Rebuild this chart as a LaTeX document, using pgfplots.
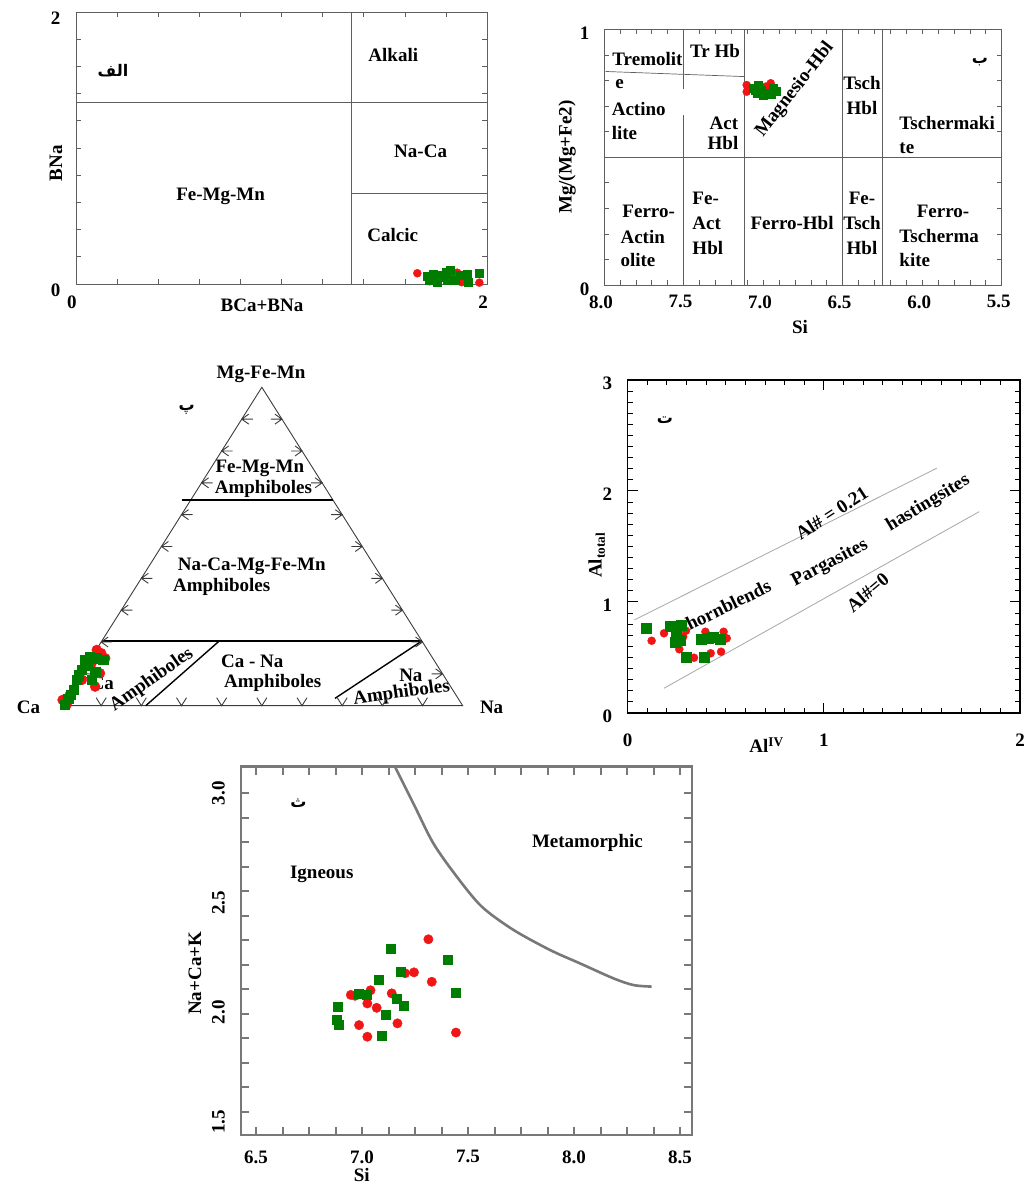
\documentclass[border=0pt]{standalone}
\usepackage{fontspec}
\setmainfont{Liberation Serif}
\newfontfamily\arabicfont[Script=Arabic]{DejaVu Sans}
\usepackage{pgfplots}
\pgfplotsset{compat=1.18}
\TeXXeTstate=1

\definecolor{ptred}{RGB}{240,22,22}
\definecolor{ptgreen}{RGB}{0,125,0}
\definecolor{frame}{RGB}{95,95,95}
\definecolor{tri}{RGB}{60,60,60}
\definecolor{curve}{RGB}{120,120,120}

\newcommand\lab{\bfseries\fontsize{19}{21}\selectfont}
\newcommand\ar[1]{{\arabicfont\bfseries\fontsize{16}{18}\selectfont\beginR #1\endR}}

% arrow-like chevrons on the sides of the ternary diagram
\pgfdeclareplotmark{chevL}{%
  \pgfpathmoveto{\pgfqpoint{7pt}{5pt}}\pgfpathlineto{\pgfqpoint{0pt}{0pt}}\pgfpathlineto{\pgfqpoint{7pt}{-5pt}}%
  \pgfpathmoveto{\pgfqpoint{0pt}{0pt}}\pgfpathlineto{\pgfqpoint{11pt}{0pt}}\pgfusepathqstroke}
\pgfdeclareplotmark{chevR}{%
  \pgfpathmoveto{\pgfqpoint{-7pt}{5pt}}\pgfpathlineto{\pgfqpoint{0pt}{0pt}}\pgfpathlineto{\pgfqpoint{-7pt}{-5pt}}%
  \pgfpathmoveto{\pgfqpoint{0pt}{0pt}}\pgfpathlineto{\pgfqpoint{-11pt}{0pt}}\pgfusepathqstroke}
\pgfdeclareplotmark{chevD}{%
  \pgfpathmoveto{\pgfqpoint{-5pt}{8pt}}\pgfpathlineto{\pgfqpoint{0pt}{0pt}}\pgfpathlineto{\pgfqpoint{5pt}{8pt}}%
  \pgfusepathqstroke}

\pgfplotsset{
  every axis/.append style={scale only axis, anchor=south west, clip=false,
    tick align=inside, /pgf/number format/assume math mode=true},
  every tick label/.append style={font=\lab},
  redpts/.style={only marks, mark=*, color=ptred},
  greenpts/.style={only marks, mark=square*, color=ptgreen},
}

\begin{document}
\begin{tikzpicture}
\path[use as bounding box] (0pt,0pt) rectangle (1025pt,1187pt);

%---------------- BNa vs BCa+BNa ----------------
\begin{axis}[at={(76pt,903pt)}, width=411pt, height=272pt,
  xmin=0, xmax=2, ymin=0, ymax=2,
  xtick={0,2}, ytick={0,2},
  minor xtick={0.2,0.4,0.6,0.8,1.0,1.2,1.4,1.6,1.8},
  minor ytick={0.2,0.4,0.6,0.8,1.0,1.2,1.4,1.6,1.8},
  axis line style={frame, line width=0.8pt},
  every tick/.style={frame, line width=0.6pt},
  major tick length=5pt, minor tick length=5pt,
  xticklabel style={yshift=-8pt, xshift=-4pt},
  yticklabel style={xshift=-12pt, yshift=-6pt},
  xlabel={\lab BCa+BNa}, ylabel={\lab BNa},
  xlabel style={at={(axis description cs:0.4526,-0.077)}, anchor=center},
  ylabel style={at={(axis description cs:-0.0487,0.4438)}, anchor=center},
]
\addplot[frame, line width=0.7pt] coordinates {(1.342,0) (1.342,2)};
\addplot[frame, line width=0.7pt] coordinates {(0,1.338) (2,1.338)};
\addplot[frame, line width=0.7pt] coordinates {(1.342,0.669) (2,0.669)};
\node[font=\lab] at (axis cs:0.704,0.642) {Fe-Mg-Mn};
\node[font=\lab] at (axis cs:1.544,1.684) {Alkali};
\node[font=\lab] at (axis cs:1.677,0.973) {Na-Ca};
\node[font=\lab] at (axis cs:1.541,0.360) {Calcic};
\node at (axis cs:0.18,1.566) {\ar{الف}};
\addplot[redpts, mark size=4pt] coordinates {
 (1.661,0.079) (1.855,0.083) (1.877,0.013) (1.963,0.010) (1.720,0.020) (1.830,0.060)};
\addplot[greenpts, mark size=4pt] coordinates {
 (1.707,0.054) (1.747,0.035) (1.780,0.066) (1.820,0.098) (1.804,0.030) (1.904,0.071)
 (1.961,0.079) (1.909,0.010) (1.844,0.030) (1.760,0.015) (1.720,0.030) (1.800,0.088)
 (1.870,0.066) (1.790,0.050) (1.740,0.070)};
\end{axis}

%---------------- Mg/(Mg+Fe2) vs Si ----------------
\begin{axis}[at={(604pt,902pt)}, width=397.7pt, height=255.7pt,
  x dir=reverse, xmin=5.5, xmax=8, ymin=0, ymax=1,
  xtick={5.5,6,6.5,7,7.5,8}, ytick={0,1},
  minor xtick={5.6,5.7,5.8,5.9,6.1,6.2,6.3,6.4,6.6,6.7,6.8,6.9,7.1,7.2,7.3,7.4,7.6,7.7,7.8,7.9},
  minor ytick={0.1,0.2,0.3,0.4,0.5,0.6,0.7,0.8,0.9},
  axis line style={frame, line width=0.8pt},
  every tick/.style={frame, line width=0.6pt},
  major tick length=5pt, minor tick length=5pt,
  xticklabel style={yshift=-7pt, xshift=-3pt, /pgf/number format/.cd, fixed, fixed zerofill, precision=1},
  yticklabel style={xshift=-11pt, yshift=-4pt},
  xlabel={\lab Si}, ylabel={\lab Mg/(Mg+Fe2)},
  xlabel style={at={(axis description cs:0.493,-0.164)}, anchor=center},
  ylabel style={at={(axis description cs:-0.093,0.5)}, anchor=center},
]
\addplot[frame, line width=0.7pt] coordinates {(7.5,0) (7.5,0.665)};
\addplot[frame, line width=0.7pt] coordinates {(7.5,0.765) (7.5,1)};
\addplot[frame, line width=0.7pt] coordinates {(7.115,0) (7.115,1)};
\addplot[frame, line width=0.7pt] coordinates {(6.5,0) (6.5,1)};
\addplot[frame, line width=0.7pt] coordinates {(6.25,0) (6.25,1)};
\addplot[frame, line width=0.7pt] coordinates {(8,0.5) (5.5,0.5)};
\addplot[frame, line width=0.7pt] coordinates {(7.99,0.835) (7.115,0.815)};
\node[font=\lab, anchor=west] at (axis cs:7.969,0.884) {Tremolit};
\node[font=\lab, anchor=west] at (axis cs:7.95,0.786) {e};
\node[font=\lab, anchor=west] at (axis cs:7.973,0.688) {Actino};
\node[font=\lab, anchor=west] at (axis cs:7.973,0.594) {lite};
\node[font=\lab] at (axis cs:7.302,0.915) {Tr Hb};
\node[font=\lab] at (axis cs:7.246,0.634) {Act};
\node[font=\lab] at (axis cs:7.252,0.555) {Hbl};
\node[font=\lab, rotate=52] at (axis cs:6.80,0.763) {Magnesio-Hbl};
\node[font=\lab] at (axis cs:6.378,0.790) {Tsch};
\node[font=\lab] at (axis cs:6.378,0.692) {Hbl};
\node[font=\lab, anchor=west] at (axis cs:6.165,0.634) {Tschermaki};
\node[font=\lab, anchor=west] at (axis cs:6.165,0.536) {te};
\node at (axis cs:5.637,0.872) {\ar{ب}};
\node[font=\lab, anchor=west] at (axis cs:7.906,0.289) {Ferro-};
\node[font=\lab, anchor=west] at (axis cs:7.918,0.188) {Actin};
\node[font=\lab, anchor=west] at (axis cs:7.918,0.098) {olite};
\node[font=\lab, anchor=west] at (axis cs:7.466,0.340) {Fe-};
\node[font=\lab, anchor=west] at (axis cs:7.466,0.242) {Act};
\node[font=\lab, anchor=west] at (axis cs:7.466,0.145) {Hbl};
\node[font=\lab] at (axis cs:6.818,0.242) {Ferro-Hbl};
\node[font=\lab] at (axis cs:6.378,0.340) {Fe-};
\node[font=\lab] at (axis cs:6.378,0.242) {Tsch};
\node[font=\lab] at (axis cs:6.378,0.145) {Hbl};
\node[font=\lab] at (axis cs:5.869,0.289) {Ferro-};
\node[font=\lab, anchor=west] at (axis cs:6.165,0.192) {Tscherma};
\node[font=\lab, anchor=west] at (axis cs:6.165,0.098) {kite};
\addplot[redpts, mark size=4pt] coordinates {
 (7.103,0.782) (7.103,0.756) (6.952,0.789) (6.982,0.776)};
\addplot[greenpts, mark size=4pt] coordinates {
 (7.062,0.769) (7.036,0.750) (7.009,0.763) (6.974,0.750) (6.936,0.769) (6.919,0.756)
 (6.999,0.743) (7.032,0.782) (6.950,0.745) (7.050,0.760)};
\end{axis}

%---------------- Ca - Na - (Mg-Fe-Mn) ternary ----------------
\begin{axis}[at={(61pt,481.3pt)}, width=401.7pt, height=318.4pt,
  xmin=0, xmax=1, ymin=0, ymax=1, hide axis]
\addplot[tri, line width=0.9pt] coordinates {(0,0) (1,0) (0.5,1) (0,0)};
\addplot[black, line width=1.4pt] coordinates {(0.300,0.646) (0.677,0.646)};
\addplot[black, line width=1.4pt] coordinates {(0.1015,0.203) (0.8985,0.203)};
\addplot[black, line width=1.4pt] coordinates {(0.211,0) (0.392,0.201)};
\addplot[black, line width=1.4pt] coordinates {(0.682,0.023) (0.898,0.203)};
\addplot[only marks, mark=chevL, tri, mark options={line width=0.9pt}] coordinates {
 (0.05,0.1) (0.10,0.2) (0.15,0.3) (0.20,0.4) (0.25,0.5) (0.30,0.6) (0.35,0.7) (0.40,0.8) (0.45,0.9)};
\addplot[only marks, mark=chevR, tri, mark options={line width=0.9pt}] coordinates {
 (0.95,0.1) (0.90,0.2) (0.85,0.3) (0.80,0.4) (0.75,0.5) (0.70,0.6) (0.65,0.7) (0.60,0.8) (0.55,0.9)};
\addplot[only marks, mark=chevD, tri, mark options={line width=0.9pt}] coordinates {
 (0.1,0) (0.2,0) (0.3,0) (0.4,0) (0.5,0) (0.6,0) (0.7,0) (0.8,0) (0.9,0)};
\node[font=\lab] at (axis cs:0.498,1.042) {Mg-Fe-Mn};
\node at (axis cs:0.313,0.929) {\ar{پ}};
\node[font=\lab] at (axis cs:0.495,0.746) {Fe-Mg-Mn};
\node[font=\lab] at (axis cs:0.504,0.680) {Amphiboles};
\node[font=\lab] at (axis cs:0.475,0.437) {Na-Ca-Mg-Fe-Mn};
\node[font=\lab] at (axis cs:0.400,0.372) {Amphiboles};
\node[font=\lab, rotate=35] at (axis cs:0.226,0.081) {Amphiboles};
\node[font=\lab] at (axis cs:0.476,0.138) {Ca - Na};
\node[font=\lab] at (axis cs:0.527,0.070) {Amphiboles};
\node[font=\lab] at (axis cs:0.871,0.096) {Na};
\node[font=\lab, rotate=8] at (axis cs:0.848,0.039) {Amphiboles};
\node[font=\lab] at (axis cs:-0.081,-0.006) {Ca};
\node[font=\lab] at (axis cs:1.072,-0.006) {Na};
\addplot[redpts, mark size=5pt] coordinates {
 (0.089,0.175) (0.110,0.149) (0.076,0.133) (0.097,0.102) (0.085,0.060) (0.022,0.034)
 (0.004,0.018) (0.014,0.003) (0.052,0.081) (0.100,0.165)};
\addplot[greenpts, mark size=4.6pt] coordinates {
 (0.060,0.144) (0.072,0.154) (0.089,0.149) (0.105,0.144) (0.052,0.112) (0.039,0.081)
 (0.031,0.049) (0.018,0.023) (0.010,0.004) (0.085,0.107) (0.076,0.081) (0.045,0.096)
 (0.066,0.125) (0.025,0.035)};
% region name set over the points
\node[font=\lab] at (axis cs:0.103,0.071) {Ca};
\end{axis}

%---------------- Al total vs Al IV ----------------
\begin{axis}[at={(627.7pt,474pt)}, width=392.3pt, height=333pt,
  xmin=0, xmax=2, ymin=0, ymax=3,
  xtick={0,1,2}, ytick={0,1,2,3}, minor tick num=9,
  axis line style={black, line width=1.5pt},
  every tick/.style={black, line width=1pt},
  major tick length=10pt, minor tick length=5pt,
  xticklabel style={yshift=-17pt},
  yticklabel style={xshift=-12pt, yshift=-3pt},
  xlabel={\lab Al\textsuperscript{IV}}, ylabel={\lab Al\textsubscript{total}},
  xlabel style={at={(axis description cs:0.354,-0.096)}, anchor=center},
  ylabel style={at={(axis description cs:-0.079,0.474)}, anchor=center},
]
\addplot[gray!70, line width=0.8pt] coordinates {(0.034,0.838) (1.575,2.205)};
\addplot[gray!70, line width=0.8pt] coordinates {(0.185,0.223) (1.792,1.814)};
\node[font=\lab, rotate=33] at (axis cs:1.04,1.80) {Al\# = 0.21};
\node[font=\lab, rotate=26] at (axis cs:0.513,0.973) {hornblends};
\node[font=\lab, rotate=28] at (axis cs:1.031,1.349) {Pargasites};
\node[font=\lab, rotate=31] at (axis cs:1.532,1.889) {hastingsites};
\node[font=\lab, rotate=40] at (axis cs:1.223,1.087) {Al\#=0};
\node at (axis cs:0.19,2.64) {\ar{ت}};
\addplot[redpts, mark size=4pt] coordinates {
 (0.122,0.651) (0.185,0.718) (0.297,0.741) (0.263,0.574) (0.338,0.498) (0.396,0.732)
 (0.423,0.538) (0.476,0.552) (0.489,0.732) (0.505,0.673) (0.283,0.687)};
\addplot[greenpts, mark size=5pt] coordinates {
 (0.092,0.763) (0.219,0.784) (0.275,0.793) (0.246,0.723) (0.241,0.642) (0.297,0.507)
 (0.377,0.664) (0.389,0.507) (0.436,0.687) (0.470,0.664) (0.410,0.676) (0.267,0.658)};
\end{axis}

%---------------- Na+Ca+K vs Si ----------------
\begin{axis}[at={(241pt,52pt)}, width=450.7pt, height=368.3pt,
  xmin=6.429, xmax=8.555, ymin=1.439, ymax=3.1215,
  xtick={6.5,7,7.5,8,8.5}, ytick={1.5,2,2.5,3},
  minor xtick={6.625,6.75,6.875,7.125,7.25,7.375,7.625,7.75,7.875,8.125,8.25,8.375},
  minor ytick={3.0,2.888,2.776,2.664,2.552,2.44,2.328,2.216,2.104,1.992,1.88,1.768,1.656,1.544},
  axis line style={curve, line width=2.4pt},
  every tick/.style={curve, line width=2pt},
  every major y tick/.append style={draw=none},
  major tick length=8pt, minor tick length=8pt,
  xticklabel style={yshift=-12pt, /pgf/number format/.cd, fixed, fixed zerofill, precision=1},
  yticklabel style={rotate=90, anchor=south, inner sep=16pt, /pgf/number format/.cd, fixed, fixed zerofill, precision=1},
  xlabel={\lab Si}, ylabel={\lab Na+Ca+K},
  xlabel style={at={(axis description cs:0.268,-0.108)}, anchor=center},
  ylabel style={at={(axis description cs:-0.102,0.439)}, anchor=center},
]
\addplot[curve, line width=2.6pt, smooth] coordinates {
 (7.156,3.12) (7.242,2.954) (7.336,2.772) (7.447,2.619) (7.565,2.482) (7.714,2.376)
 (7.887,2.284) (8.028,2.223) (8.185,2.155) (8.280,2.124) (8.366,2.117)};
\node[font=\lab] at (axis cs:6.81,2.63) {Igneous};
\node[font=\lab] at (axis cs:8.063,2.774) {Metamorphic};
\node at (axis cs:6.70,2.954) {\ar{ث}};
\addplot[redpts, mark size=4.7pt] coordinates {
 (6.947,2.079) (6.967,2.075) (7.040,2.100) (7.025,2.040) (7.069,2.020) (6.986,1.941)
 (7.025,1.888) (7.140,2.086) (7.167,1.949) (7.203,2.178) (7.245,2.182) (7.313,2.333)
 (7.329,2.139) (7.443,1.907)};
\addplot[greenpts, mark size=4.5pt] coordinates {
 (6.884,2.025) (6.881,1.964) (6.888,1.941) (6.983,2.086) (7.022,2.079) (7.080,2.147)
 (7.112,1.990) (7.093,1.891) (7.135,2.289) (7.164,2.060) (7.184,2.185) (7.195,2.028)
 (7.404,2.238) (7.440,2.089)};
\end{axis}
\end{tikzpicture}
\end{document}
